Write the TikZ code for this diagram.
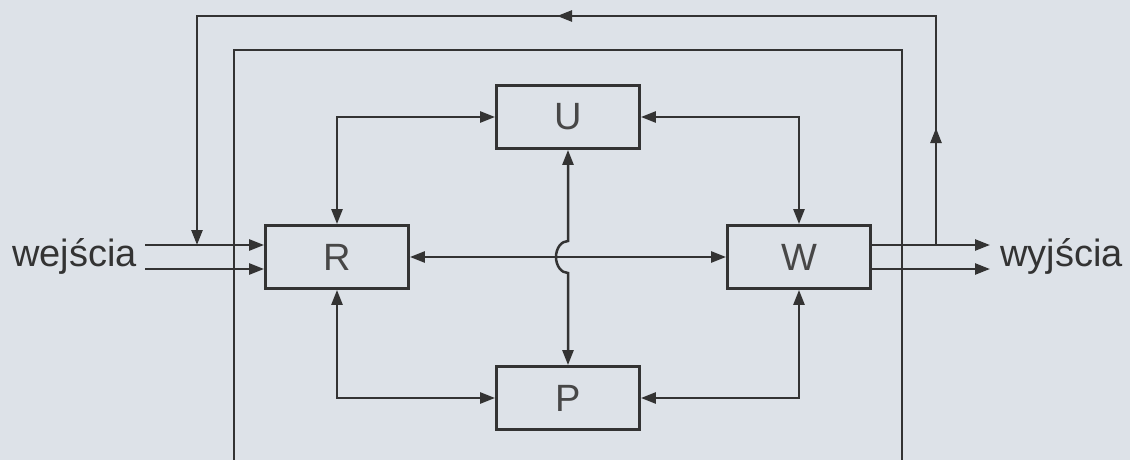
\documentclass[tikz,border=0pt]{standalone}
\usepackage{fontspec}
\setmainfont{Liberation Sans}
\usetikzlibrary{arrows.meta,decorations.markings}
\definecolor{bg}{HTML}{DDE2E8}
\definecolor{ink}{HTML}{333333}
\begin{document}
\begin{tikzpicture}[x=1pt,y=-1pt,
  blk/.style={draw=ink,line width=2.8pt,minimum width=143pt,minimum height=63pt,inner sep=0pt,font=\fontsize{38}{40}\selectfont,text=ink!90},
  con/.style={draw=ink,line width=2.5pt},
  tip/.style={-{Triangle[length=15pt,width=11pt]}},
  btip/.style={{Triangle[length=15pt,width=11pt]}-{Triangle[length=15pt,width=11pt]}},
  lbl/.style={font=\fontsize{38}{40}\selectfont,text=ink,inner sep=0pt}]
\useasboundingbox (0,0) rectangle (1130,460);
\fill[bg] (0,0) rectangle (1130,460);
% frame
\coordinate (f1) at (234,462);
\coordinate (f2) at (234,50);
\coordinate (f3) at (902,50);
\coordinate (f4) at (902,462);
\draw[con,line width=2.3pt] (f1) -- (f2) -- (f3) -- (f4);
% blocks
\node[blk] (R) at (337,257) {R};
\node[blk] (W) at (799,257) {W};
\node[blk] (U) at (568,117) {U};
\node[blk] (P) at (568,398) {P};
% connectors between blocks
\draw[con,btip] (R.north) |- (U.west);
\draw[con,btip] (U.east) -| (W.north);
\draw[con,btip] (R.south) |- (P.west);
\draw[con,btip] (W.south) |- (P.east);
\draw[con,btip] (R.east) -- (W.west);
\coordinate (hopA) at (568,241);
\draw[con,btip] (U.south) -- (hopA) arc[start angle=270,end angle=90,x radius=12,y radius=16] -- (P.north);
% inputs
\coordinate (i1) at (145,245);
\coordinate (i2) at (145,269);
\draw[con,tip] (i1) -- (i1 -| R.west);
\draw[con,tip] (i2) -- (i2 -| R.west);
% outputs
\coordinate (o1) at (990,245);
\coordinate (o2) at (990,269);
\draw[con,tip] (o1 -| W.east) -- (o1);
\draw[con,tip] (o2 -| W.east) -- (o2);
% labels
\node[lbl,anchor=base east] (win) at (137,266) {wejścia};
\node[lbl,anchor=base west] (wout) at (1000,266) {wyjścia};
% feedback
\coordinate (fa) at (936,245);
\coordinate (fb) at (936,16);
\coordinate (fc) at (197,16);
\coordinate (fd) at (197,245);
\draw[con,tip,postaction={decorate},
  decoration={markings,
    mark=at position 117pt with {\arrow{Triangle[length=15pt,width=11pt]}},
    mark=at position 608pt with {\arrow{Triangle[length=15pt,width=11pt]}}}]
  (fa) -- (fb) -- (fc) -- (fd);
\end{tikzpicture}
\end{document}
